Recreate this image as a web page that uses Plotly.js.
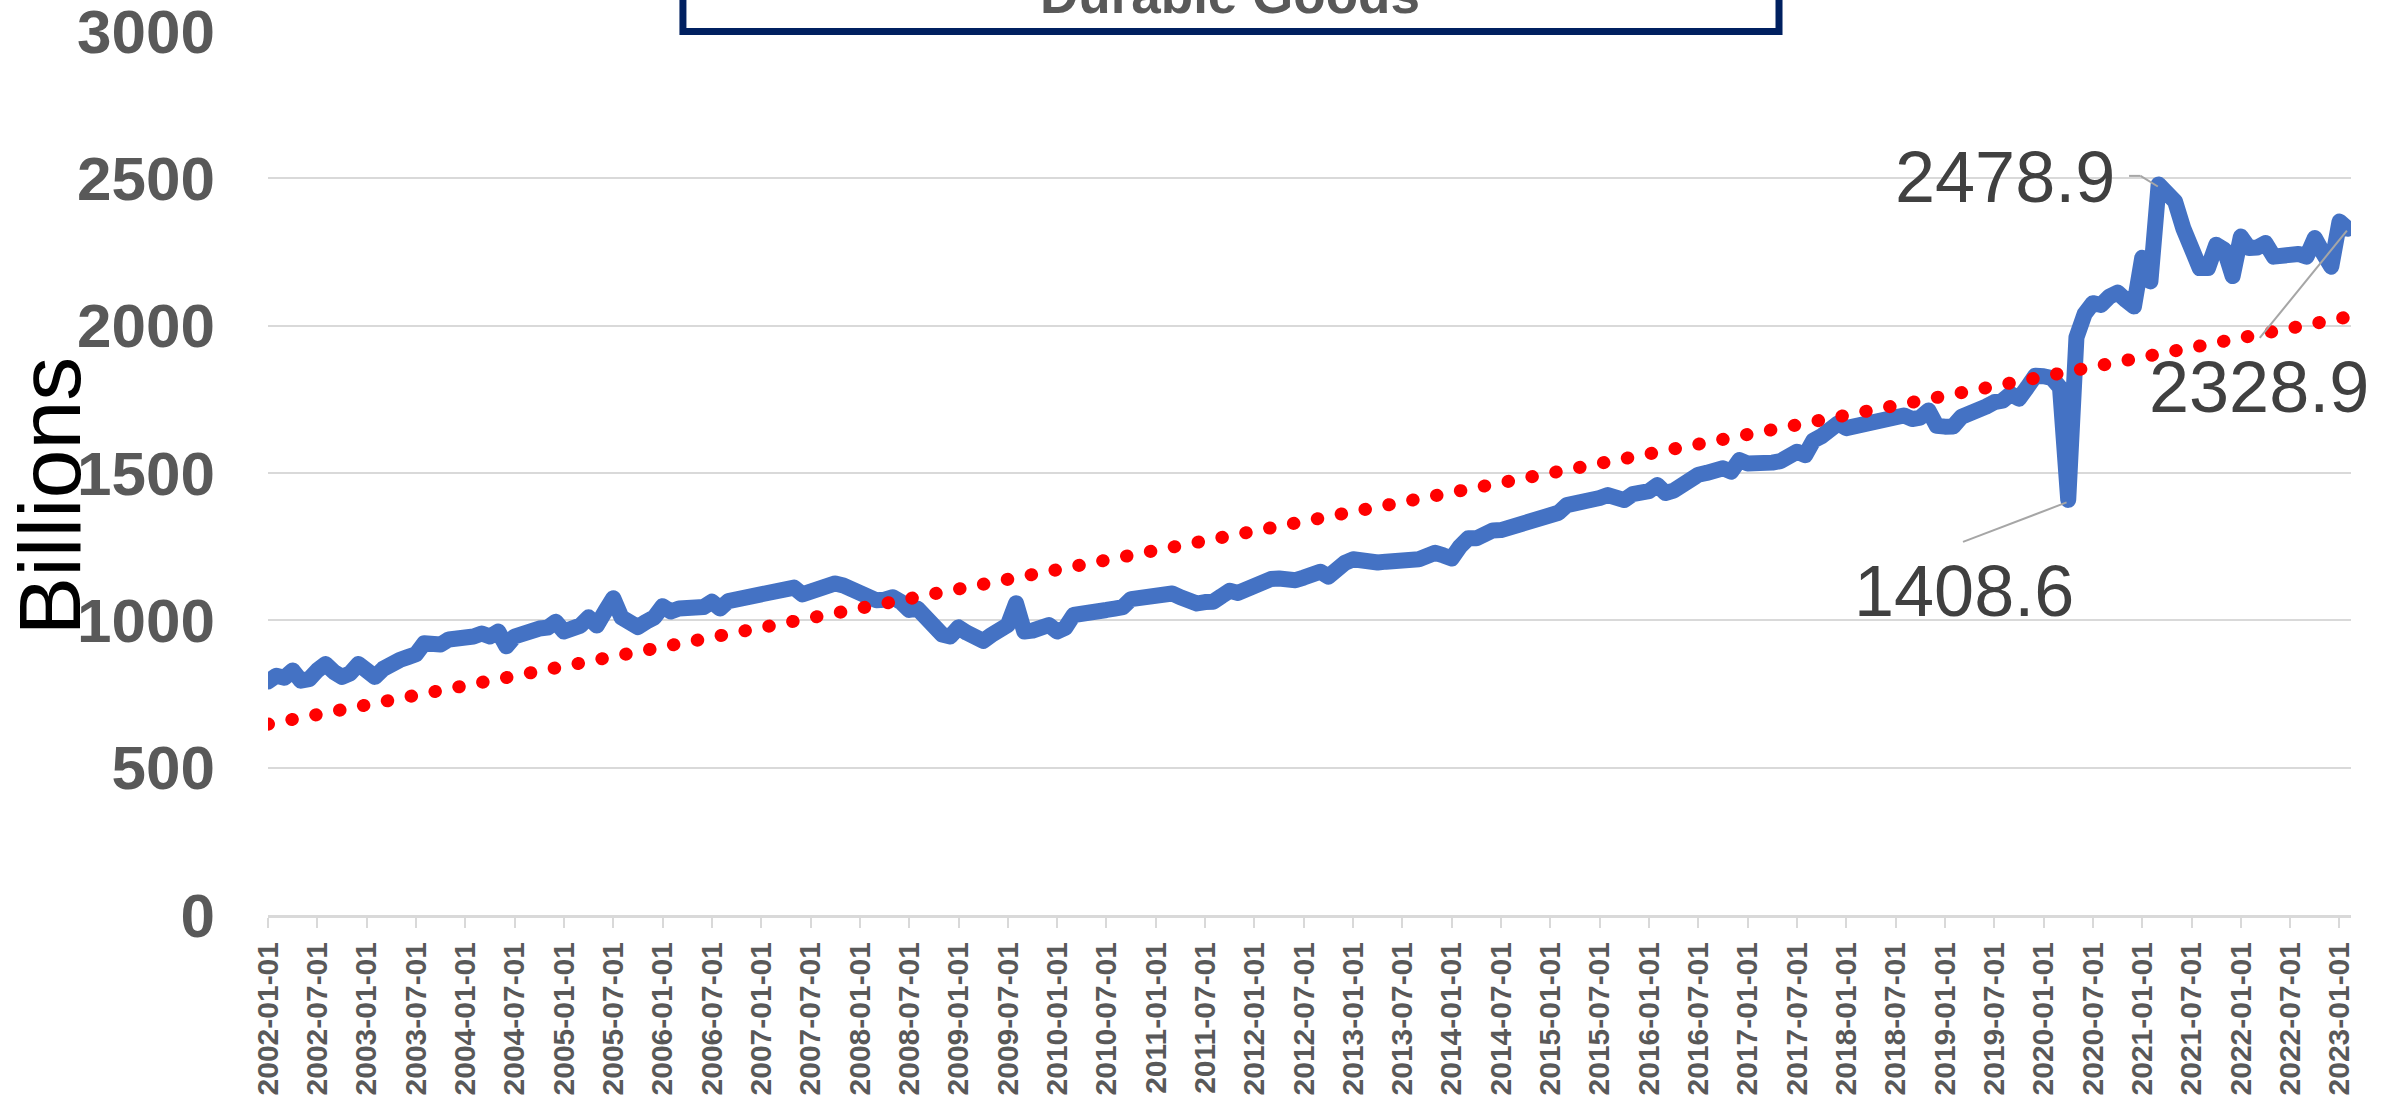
<!DOCTYPE html>
<html>
<head>
<meta charset="utf-8">
<script src="https://cdn.plot.ly/plotly-3.0.1.min.js"></script>
<style>
  html, body { margin: 0; padding: 0; background: #ffffff; }
  #chart { width: 2407px; height: 1101px; }
  /* rounded joins for the series, round dots for the trend line */
  .js-line { stroke-linejoin: round; stroke-linecap: round; }
</style>
</head>
<body>
<div id="chart"></div>
<script>
// Monthly spending on durable goods, billions (Jan 2002 - Feb 2023)
const durable2002to2005 = [792, 812, 805, 830, 795, 800, 830, 852, 825, 808, 820, 852,
  830, 808, 835, 856, 865, 875, 885, 922, 915, 918, 935, 934,
  933, 945, 955, 945, 962, 912, 945, 955, 970, 972, 975, 995,
  962, 972, 982, 1010, 982, 1030, 1075, 1010, 985, 977, 995, 1010];
const durable2006to2009 = [1048, 1030, 1040, 1040, 1040, 1045, 1063, 1040, 1065, 1070, 1074, 1082,
  1091, 1085, 1090, 1095, 1111, 1088, 1095, 1110, 1120, 1125, 1118, 1108,
  1092, 1075, 1068, 1070, 1078, 1062, 1035, 1040, 1005, 985, 952, 945,
  976, 958, 938, 930, 950, 962, 984, 1058, 962, 965, 975, 984];
const durable2010to2013 = [962, 975, 1018, 1020, 1018, 1025, 1035, 1040, 1045, 1072, 1074, 1076,
  1082, 1080, 1091, 1078, 1065, 1057, 1062, 1063, 1082, 1100, 1093, 1105,
  1125, 1142, 1140, 1142, 1138, 1136, 1145, 1153, 1165, 1148, 1180, 1195,
  1207, 1200, 1190, 1196, 1199, 1200, 1202, 1204, 1207, 1218, 1229, 1220];
const durable2014to2017 = [1210, 1250, 1278, 1278, 1295, 1305, 1306, 1315, 1327, 1335, 1350, 1358,
  1362, 1365, 1391, 1395, 1400, 1404, 1415, 1425, 1418, 1408, 1428, 1432,
  1438, 1459, 1432, 1440, 1460, 1487, 1494, 1500, 1508, 1516, 1504, 1544,
  1532, 1530, 1527, 1535, 1540, 1565, 1572, 1560, 1610, 1625, 1648, 1668];
const durable2018to2021 = [1652, 1660, 1663, 1667, 1680, 1686, 1690, 1695, 1683, 1688, 1712, 1660,
  1657, 1658, 1690, 1698, 1715, 1725, 1740, 1745, 1768, 1752, 1790, 1830,
  1828, 1822, 1790, 1408.6, 1960, 2040, 2076, 2070, 2098, 2112, 2087, 2065,
  2230, 2150, 2478.9, 2450, 2421, 2330, 2268, 2195, 2195, 2274, 2257, 2168];
const durable2022to2023 = [2302, 2263, 2265, 2280, 2234, 2240, 2246, 2243, 2234, 2297, 2246, 2200,
  2353, 2328.9];

const durableGoods = [].concat(durable2002to2005, durable2006to2009, durable2010to2013,
  durable2014to2017, durable2018to2021, durable2022to2023);

// Month labels in the same order as the values
const firstYear = 2002;
const months = durableGoods.map((_, i) => {
  const y = firstYear + Math.floor(i / 12);
  const m = (i % 12) + 1;
  return y + '-' + String(m).padStart(2, '0') + '-01';
});
const tickMonths = months.filter((_, i) => i % 6 === 0);
const yTicks = [0, 500, 1000, 1500, 2000, 2500, 3000];

// Linear trend (least squares over the whole series)
const n = durableGoods.length;
let sx = 0, sy = 0, sxx = 0, sxy = 0;
durableGoods.forEach((v, i) => { sx += i; sy += v; sxx += i * i; sxy += i * v; });
const slope = (n * sxy - sx * sy) / (n * sxx - sx * sx);
const intercept = (sy - slope * sx) / n;
const trend = durableGoods.map((_, i) => intercept + slope * i);

// Points called out with labels
const peakIdx = durableGoods.indexOf(Math.max(...durableGoods));
const lowIdx = durableGoods.indexOf(Math.min(...durableGoods.slice(200)));
const lastIdx = n - 1;

const labelFont = { family: 'Liberation Sans, Arial, sans-serif', size: 72, color: '#404040' };
const leader = { color: '#a6a6a6', width: 2 };

const traces = [
  {
    x: months, y: durableGoods, type: 'scatter', mode: 'lines',
    line: { color: '#4472c4', width: 16 }, hoverinfo: 'x+y'
  },
  {
    x: months, y: trend, type: 'scatter', mode: 'lines',
    line: { color: '#ff0000', width: 13, dash: '0.5px,23.8px' }, hoverinfo: 'skip'
  }
];

const layout = {
  width: 2407, height: 1101,
  margin: { l: 268, r: 56, t: 30, b: 186 },
  paper_bgcolor: '#ffffff', plot_bgcolor: '#ffffff',
  showlegend: false,
  xaxis: {
    type: 'category', range: [0, 253.4],
    tickmode: 'array', tickvals: tickMonths, ticktext: tickMonths,
    tickangle: -90,
    tickfont: { family: 'Liberation Sans, Arial, sans-serif', size: 30, color: '#595959', weight: 'bold' },
    ticks: 'outside', ticklen: 10, tickwidth: 2, tickcolor: '#d9d9d9',
    ticklabelstandoff: 2, ticklabeloverflow: 'allow',
    showline: true, linecolor: '#d9d9d9', linewidth: 3,
    showgrid: false, zeroline: false, fixedrange: true
  },
  yaxis: {
    range: [0, 3003], tickmode: 'array', tickvals: yTicks,
    tickfont: { family: 'Liberation Sans, Arial, sans-serif', size: 62, color: '#595959', weight: 'bold' },
    ticks: '', ticklabelstandoff: 52, ticklabeloverflow: 'allow',
    showgrid: true, gridcolor: '#d9d9d9', gridwidth: 2,
    zeroline: false, showline: false, fixedrange: true
  },
  shapes: [
    // title frame
    { type: 'rect', xref: 'paper', yref: 'paper', x0: 0.1992, x1: 0.7254, y0: 0.9983, y1: 1.3,
      line: { color: '#002060', width: 7 }, fillcolor: '#ffffff', layer: 'above' },
    // leader lines
    { type: 'line', xref: 'x', yref: 'y', x0: 226.4, y0: 2508, x1: 227.8, y1: 2508, line: leader },
    { type: 'line', xref: 'x', yref: 'y', x0: 227.8, y0: 2508, x1: peakIdx - 0.1, y1: 2472, line: leader },
    { type: 'line', xref: 'x', yref: 'y', x0: 206.2, y0: 1266, x1: lowIdx - 0.2, y1: 1400, line: leader },
    { type: 'line', xref: 'x', yref: 'y', x0: 242.3, y0: 1958, x1: lastIdx - 0.1, y1: 2322, line: leader }
  ],
  annotations: [
    { xref: 'paper', yref: 'paper', x: 0.4618, y: 1.0045, xanchor: 'center', yanchor: 'bottom',
      text: 'Durable Goods', showarrow: false,
      font: { family: 'Liberation Sans, Arial, sans-serif', size: 53, color: '#595959', weight: 'bold' } },
    { xref: 'paper', yref: 'paper', x: -0.1047, y: 0.474, xanchor: 'center', yanchor: 'middle',
      text: 'Billions', textangle: -90, showarrow: false,
      font: { family: 'Liberation Sans, Arial, sans-serif', size: 88, color: '#000000' } },
    { xref: 'x', yref: 'y', x: 211.3, y: 2503, xanchor: 'center', yanchor: 'middle',
      text: durableGoods[peakIdx].toFixed(1), showarrow: false, font: labelFont },
    { xref: 'x', yref: 'y', x: 206.3, y: 1100, xanchor: 'center', yanchor: 'middle',
      text: durableGoods[lowIdx].toFixed(1), showarrow: false, font: labelFont },
    { xref: 'x', yref: 'y', x: 242.2, y: 1790, xanchor: 'center', yanchor: 'middle',
      text: durableGoods[lastIdx].toFixed(1), showarrow: false, font: labelFont }
  ]
};

Plotly.newPlot('chart', traces, layout, { staticPlot: true, displayModeBar: false });
</script>
</body>
</html>
